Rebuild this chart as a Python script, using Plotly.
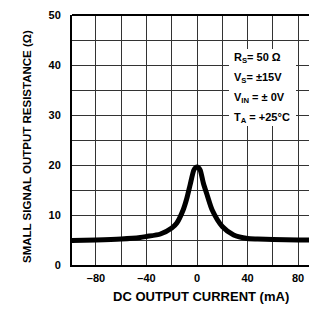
import plotly.graph_objects as go

# Data
current_ma = [-100, -80, -60, -45, -40, -29, -20, -16, -11, -8, -5.5, -2.5, -1, 0,
              1, 2.5, 5, 8, 12, 20, 29, 40, 48, 60, 80, 96]
resistance_ohm = [4.9, 5.0, 5.2, 5.5, 5.7, 6.2, 7.4, 8.4, 11.0, 13.4, 16.0, 19.0, 19.5, 19.6,
                  19.5, 19.0, 16.4, 14.0, 11.0, 7.7, 6.0, 5.3, 5.2, 5.1, 5.0, 5.0]
x_ticks = [-80, -40, 0, 40, 80]
x_tick_text = ["–80", "–40", "0", "40", "80"]
y_ticks = [0, 10, 20, 30, 40, 50]
conditions = ["R<sub>S</sub>= 50 Ω", "V<sub>S</sub>= ±15V", "V<sub>IN</sub> = ± 0V", "T<sub>A</sub> = +25°C"]

FONT = "Liberation Sans"
GRID = "#333333"

# page has an 8px body margin; figure sized to fit the 317x310 window
W, H = 309, 302
L, T, B = 64, 7, 45


def px(wx):  # window x -> paper x
    return (wx - 72) / 245


def py(wy):  # window y -> paper y
    return (265 - wy) / 250


fig = go.Figure()
fig.add_trace(go.Scatter(
    x=current_ma, y=resistance_ohm, mode="lines",
    line=dict(color="black", width=5, shape="spline", smoothing=0.7),
    hoverinfo="skip", showlegend=False,
))

fig.update_layout(
    width=W, height=H,
    margin=dict(l=L, r=0, t=T, b=B),
    paper_bgcolor="white", plot_bgcolor="white",
    font=dict(family=FONT, color="black"),
    xaxis=dict(
        range=[-99, 95], tickmode="array", tickvals=x_ticks, ticktext=x_tick_text,
        showgrid=True, gridcolor=GRID, gridwidth=1.3,
        minor=dict(dtick=20, tick0=0, showgrid=True, gridcolor=GRID, gridwidth=1.3),
        zeroline=False, showline=True, linecolor="black", linewidth=2,
        ticks="", ticklabelstandoff=2,
        tickfont=dict(family=FONT, size=11, weight="bold"),
        fixedrange=True,
    ),
    yaxis=dict(
        range=[0, 50], tickmode="array", tickvals=y_ticks,
        showgrid=True, gridcolor=GRID, gridwidth=1.3,
        minor=dict(dtick=5, tick0=0, showgrid=True, gridcolor=GRID, gridwidth=1.3),
        zeroline=False, showline=True, linecolor="black", linewidth=2,
        mirror=False, ticks="", ticklabelstandoff=7,
        tickfont=dict(family=FONT, size=11, weight="bold"),
        fixedrange=True,
    ),
)

# top frame line
fig.add_shape(type="line", xref="paper", yref="paper", x0=0, x1=1, y0=1, y1=1,
              line=dict(color="black", width=2))

# white box behind the conditions text
fig.add_shape(type="rect", xref="paper", yref="paper", layer="above",
              x0=px(229), x1=px(296), y0=py(126), y1=py(49),
              line=dict(width=0), fillcolor="white")

for i, txt in enumerate(conditions):
    fig.add_annotation(
        text=txt, xref="paper", yref="paper",
        x=px(232), y=py(58 + 20 * i), xanchor="left", yanchor="middle",
        showarrow=False, align="left",
        font=dict(family=FONT, size=11, weight="bold"),
    )

fig.add_annotation(
    text="SMALL SIGNAL OUTPUT RESISTANCE (Ω)", xref="paper", yref="paper",
    x=px(27), y=py(147), textangle=-90,
    xanchor="center", yanchor="middle", showarrow=False,
    font=dict(family=FONT, size=11.5, weight="bold"),
)
fig.add_annotation(
    text="DC OUTPUT CURRENT (mA)", xref="paper", yref="paper",
    x=px(201), y=py(296),
    xanchor="center", yanchor="middle", showarrow=False,
    font=dict(family=FONT, size=13, weight="bold"),
)

fig.write_html("out.html")
